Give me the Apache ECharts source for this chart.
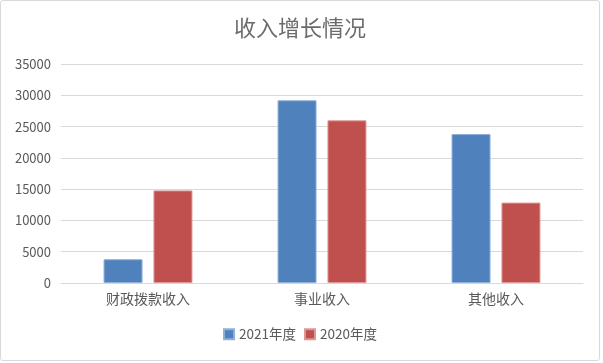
<!DOCTYPE html>
<html><head><meta charset="utf-8">
<script src="https://cdn.jsdelivr.net/npm/echarts@6/dist/echarts.min.js"></script>
<style>
html,body{margin:0;padding:0;background:#fff;}
#c{width:598px;height:359px;border:1px solid #d9d9d9;border-radius:3px;}
</style></head>
<body><div id="c"></div>
<script>
const categories = ['财政拨款收入', '事业收入', '其他收入'];
const values2021 = [3800, 29200, 23800];
const values2020 = [14800, 26000, 12850];
const seriesNames = ['2021年度', '2020年度'];
const chart = echarts.init(document.getElementById('c'));
const font = '"Noto Sans CJK SC", "Noto Sans", sans-serif';
chart.setOption({
  animation: false,
  title: {text: '收入增长情况', left: 'center', top: 11,
    textStyle: {fontFamily: font, fontSize: 22, fontWeight: 'normal', color: '#6b6b6b'}},
  legend: {data: seriesNames, bottom: 14, left: 'center', itemWidth: 10, itemHeight: 10, itemGap: 8,
    icon: 'rect', textStyle: {fontFamily: font, fontSize: 13.5, color: '#595959'}},
  grid: {left: 60, right: 16, top: 63, bottom: 77},
  xAxis: {type: 'category', data: categories,
    axisLine: {lineStyle: {color: '#d9d9d9'}}, axisTick: {show: false},
    axisLabel: {fontFamily: font, fontSize: 14, color: '#595959', margin: 9}},
  yAxis: {type: 'value', min: 0, max: 35000, interval: 5000,
    axisLine: {show: false}, axisTick: {show: false},
    splitLine: {lineStyle: {color: '#d9d9d9'}},
    axisLabel: {fontFamily: font, fontSize: 13, color: '#595959', margin: 10,
      formatter: v => String(v)}},
  series: [
    {name: seriesNames[0], type: 'bar', data: values2021, barWidth: 39, barGap: '28%',
      itemStyle: {color: '#4F81BD', borderColor: '#8fb0d8', borderWidth: 1}},
    {name: seriesNames[1], type: 'bar', data: values2020, barWidth: 39,
      itemStyle: {color: '#C0504D', borderColor: '#dc9896', borderWidth: 1}}
  ]
});
</script></body></html>
